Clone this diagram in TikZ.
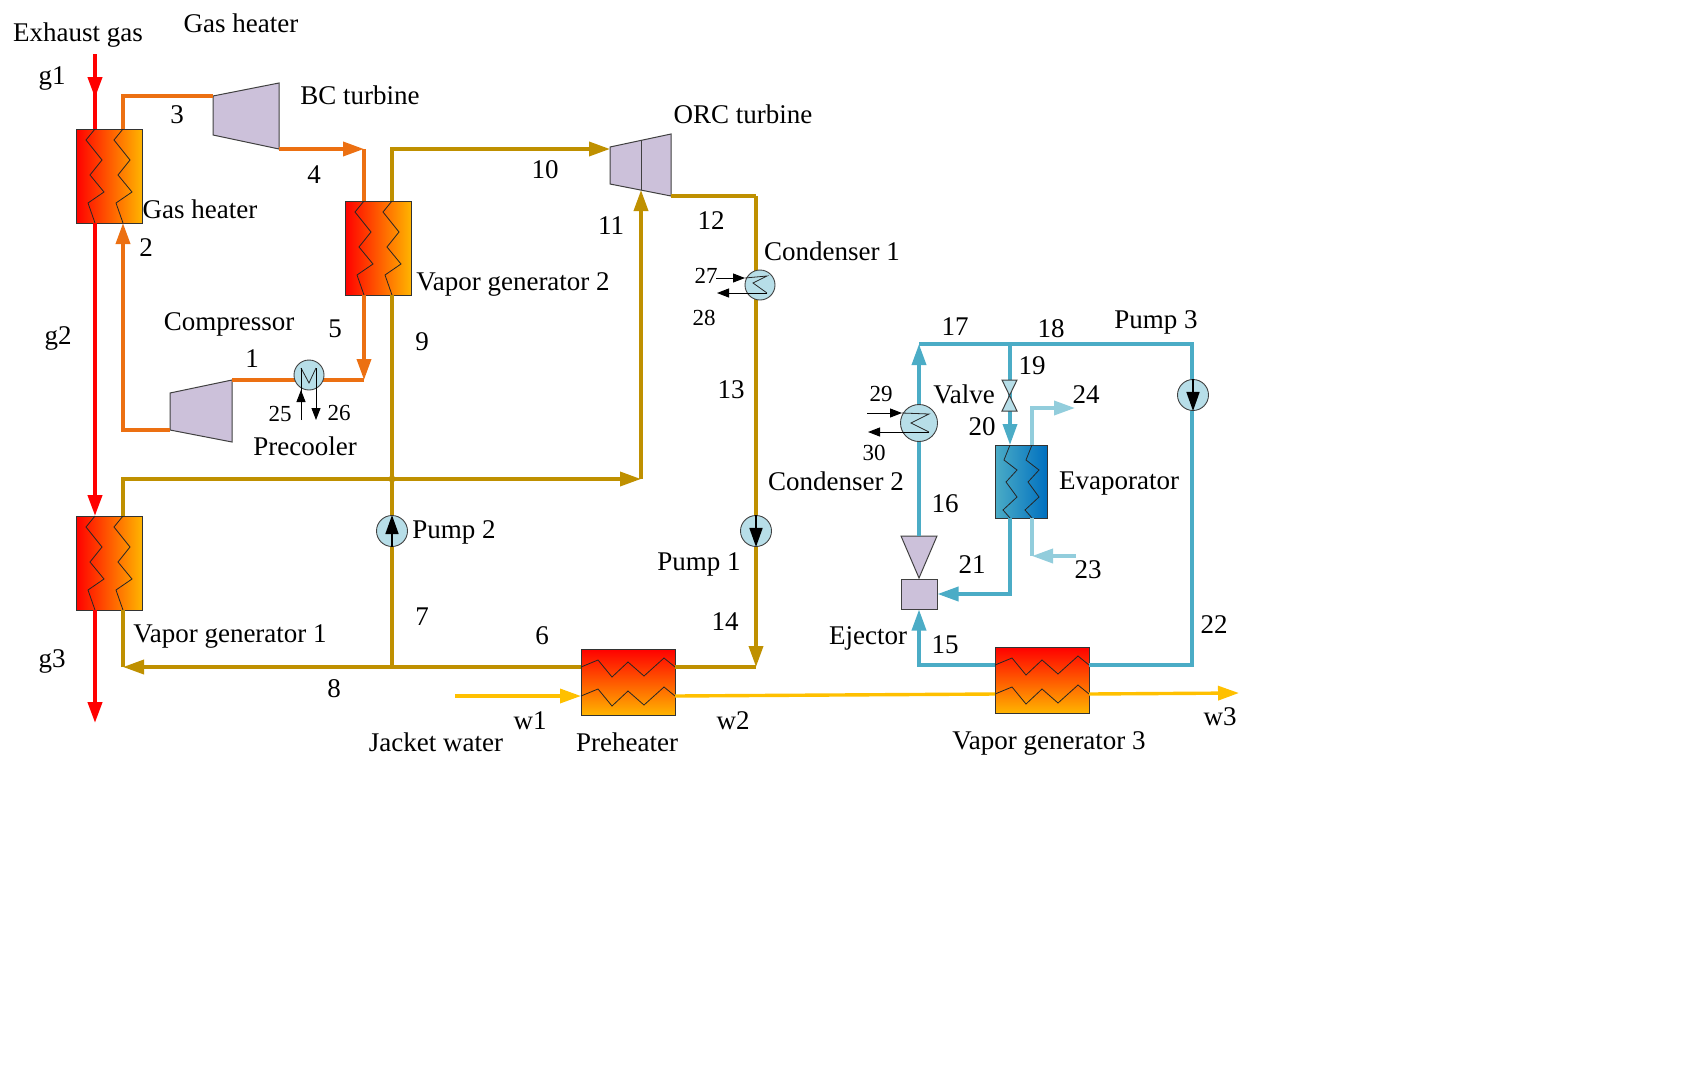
\documentclass[tikz,border=0pt]{standalone}
\usepackage{fontspec}
\setmainfont{Liberation Serif}
\usetikzlibrary{arrows.meta,calc}
\definecolor{airorange}{HTML}{EC7012}
\definecolor{orcgold}{HTML}{BF9000}
\definecolor{wateramber}{HTML}{FFC000}
\definecolor{ejblue}{HTML}{4BACC6}
\definecolor{chillblue}{HTML}{92CDDC}
\definecolor{machinelilac}{HTML}{CCC1DA}
\definecolor{coilblue}{HTML}{B7DEE8}
\definecolor{hotend}{HTML}{FFB400}
\definecolor{coldend}{HTML}{0070C0}
\tikzset{
  hxbox/.style={draw=black!80,line width=0.9pt,inner sep=0pt,outer sep=0pt},
  hxv/.style={hxbox,minimum width=66pt,minimum height=94pt,left color=red,right color=hotend},
  hxh/.style={hxbox,minimum width=94pt,minimum height=66pt,top color=red,bottom color=hotend},
  hxe/.style={hxbox,minimum width=52pt,minimum height=73pt,left color=ejblue,right color=coldend},
  zig/.style={draw=black!85,line width=0.8pt,line join=miter},
  machine/.style={fill=machinelilac,draw=black!75,line width=1pt},
  coil/.style={circle,draw=black!75,fill=coilblue,line width=0.9pt,minimum size=#1,inner sep=0pt},
  gas/.style={red,line width=4pt},
  air/.style={airorange,line width=3.6pt},
  orc/.style={orcgold,line width=3.6pt},
  water/.style={wateramber,line width=3.4pt},
  ej/.style={ejblue,line width=3.6pt},
  chill/.style={chillblue,line width=3.6pt},
  tip/.style={-{Triangle[length=21pt,width=14pt]}},
  minitip/.style={black,line width=1pt,-{Triangle[length=12pt,width=9pt]}},
  lbl/.style={font=\fontsize{27}{31}\selectfont,inner sep=0pt},
  sml/.style={font=\fontsize{23}{27}\selectfont,inner sep=0pt}
}
% vertical and horizontal exchanger: box, two coils, four ports
\newcommand{\hexv}[3]{%
  \node[hxv,anchor=north west] (#1) at (#2,#3) {};
  \coordinate (#1-at) at ([shift={(19,0)}]#1.north west);
  \coordinate (#1-bt) at ([shift={(47,0)}]#1.north west);
  \coordinate (#1-ab) at ([shift={(19,94)}]#1.north west);
  \coordinate (#1-bb) at ([shift={(47,94)}]#1.north west);
  \draw[zig] (#1-at) -- ++(-9,11) -- ++(16,20) -- ++(-12,15) -- ++(14,17) -- ++(-16,11) -- (#1-ab);
  \draw[zig] (#1-bt) -- ++(-9,11) -- ++(16,20) -- ++(-12,15) -- ++(14,17) -- ++(-16,11) -- (#1-bb);
}
\newcommand{\hexh}[3]{%
  \node[hxh,anchor=north west] (#1) at (#2,#3) {};
  \coordinate (#1-al) at ([shift={(0,18)}]#1.north west);
  \coordinate (#1-ar) at ([shift={(94,18)}]#1.north west);
  \coordinate (#1-bl) at ([shift={(0,47)}]#1.north west);
  \coordinate (#1-br) at ([shift={(94,47)}]#1.north west);
  \draw[zig] (#1-al) -- ++(17,-7) -- ++(14,17) -- ++(16,-15) -- ++(16,14) -- ++(20,-18) -- (#1-ar);
  \draw[zig] (#1-bl) -- ++(17,-7) -- ++(14,17) -- ++(16,-15) -- ++(16,14) -- ++(20,-18) -- (#1-br);
}
\begin{document}
\begin{tikzpicture}[x=1pt,y=-1pt]
  \useasboundingbox (0,0) rectangle (1696,1074);

  % junctions and bends
  \coordinate (g1in) at (95,54);
  \coordinate (g1mid) at (95,98);
  \coordinate (g3out) at (95,723);
  \coordinate (b3) at (123,96);
  \coordinate (b4) at (364,149);
  \coordinate (b5) at (364,380);
  \coordinate (b2) at (123,430);
  \coordinate (b10) at (392,149);
  \coordinate (orcport) at (610,149);
  \coordinate (b12) at (756,196);
  \coordinate (b14) at (756,667);
  \coordinate (jc9) at (392,479);
  \coordinate (jc7) at (392,667);
  \coordinate (b7) at (123,479);
  \coordinate (b11) at (641,479);
  \coordinate (b8) at (123,667);
  \coordinate (w1in) at (455,696);
  \coordinate (w3out) at (1239,693);
  \coordinate (b15) at (919,665);
  \coordinate (b22) at (1192,665);
  \coordinate (b18) at (1192,344);
  \coordinate (b17) at (919,344);
  \coordinate (j19) at (1010,344);
  \coordinate (b21) at (1010,594);
  \coordinate (b23) at (1032,556);
  \coordinate (e23) at (1076,556);
  \coordinate (b24) at (1032,408);
  \coordinate (e24) at (1075,408);

  % machines
  \filldraw[machine] (213,96) coordinate (bcin) -- (279,83) -- (279,149) coordinate (bcout) -- (213,135) -- cycle;
  \filldraw[machine] (170,393) -- (232,380) coordinate (cpout) -- (232,442) -- (170,430) coordinate (cpin) -- cycle;
  \filldraw[machine] (610,147) -- (671,134) -- (671,196) coordinate (orcout) -- (610,184) -- cycle;
  \draw[machine] (641,141) -- (641,190) coordinate (orcmid);
  \filldraw[machine] (901,536) -- (937,536) -- (919,578) -- cycle;
  \node[draw=black!75,fill=machinelilac,line width=1pt,minimum width=36pt,minimum height=30pt,inner sep=0pt] (ejector) at (919,594) {};
  \coordinate (ejtop) at (919,536);

  % exchangers
  \hexv{gh}{76}{129}
  \hexv{vgb}{345}{201}
  \hexv{vga}{76}{516}
  \hexh{pre}{581}{649}
  \hexh{vgc}{995}{647}
  \node[hxe,anchor=north west] (evap) at (995,445) {};
  \coordinate (ev-at) at (1010,445);
  \coordinate (ev-bt) at (1032,445);
  \coordinate (ev-ab) at (1010,518);
  \coordinate (ev-bb) at (1032,518);
  \draw[zig] (ev-at) -- ++(-6,15) -- ++(13,10) -- ++(-11,12) -- ++(11,15) -- ++(-14,13) -- (ev-ab);
  \draw[zig] (ev-bt) -- ++(-6,15) -- ++(13,10) -- ++(-11,12) -- ++(11,15) -- ++(-14,13) -- (ev-bb);

  % gas side
  \draw[gas] (g1in) -- (gh-at);
  \draw[gas,tip] (g1in) -- (g1mid);
  \draw[gas,tip] (gh-ab) -- (vga-at);
  \draw[gas,tip] (vga-ab) -- (g3out);

  % air loop
  \draw[air] (gh-bt) -- (b3) -- (bcin);
  \draw[air,tip] (bcout) -- (b4);
  \draw[air] (b4) -- (vgb-at);
  \draw[air,tip] (vgb-ab) -- (b5);
  \draw[air] (b5) -- (cpout);
  \draw[air,tip] (cpin) -- (b2) -- (gh-bb);

  % organic loop
  \draw[orc,tip] (vgb-bt) -- (b10) -- (orcport);
  \draw[orc] (orcout) -- (b12);
  \draw[orc,tip] (b12) -- (b14);
  \draw[orc] (pre-ar) -- (b14);
  \draw[orc] (pre-al) -- (jc7);
  \draw[orc,tip] (jc7) -- (b8);
  \draw[orc] (b8) -- (vga-bb);
  \draw[orc] (jc7) -- (vgb-bb);
  \draw[orc,tip] (vga-bt) -- (b7) -- (b11);
  \draw[orc,tip] (b11) -- (orcmid);
  \node[circle,fill=orcgold,minimum size=7pt,inner sep=0pt] (jcdot) at (jc9) {};

  % water
  \draw[water,tip] (w1in) -- (pre-bl);
  \draw[water] (pre-br) -- (vgc-bl);
  \draw[water,tip] (vgc-br) -- (w3out);

  % ejector loop
  \draw[ej,tip] (vgc-al) -- (b15) -- (ejector.south);
  \draw[ej] (vgc-ar) -- (b22) -- (b18) -- (b17);
  \draw[ej,tip] (ejtop) -- (b17);
  \draw[ej,tip] (j19) -- (ev-at);
  \draw[ej,tip] (ev-ab) -- (b21) -- (ejector.east);
  \draw[chill,tip] (e23) -- (b23);
  \draw[chill] (b23) -- (ev-bb);
  \draw[chill,tip] (ev-bt) -- (b24) -- (e24);

  % coolers and pumps
  \node[coil=30pt] (precool) at (309,375) {};
  \draw[zig] (301,368) -- (309,383) -- (316,368);
  \coordinate (pc25) at (301,420);
  \coordinate (pc26) at (316,420);
  \draw[minitip] (pc25) -- (301,390);
  \draw[black,line width=0.9pt] (301,392) -- (301,368);
  \draw[minitip] (316,368) -- (pc26);

  \node[coil=30pt] (condA) at (760,285) {};
  \coordinate (c27) at (716,278);
  \coordinate (c28) at (717,293);
  \draw[minitip] (c27) -- (745,278);
  \draw[zig] (745,278) -- (767,276) -- (753,283) -- (767,293);
  \draw[minitip] (767,293) -- (c28);

  \node[coil=37pt] (condB) at (919,423) {};
  \coordinate (c29) at (867,413);
  \coordinate (c30) at (868,432);
  \draw[minitip] (c29) -- (902,413);
  \draw[zig] (902,413) -- (929,414) -- (911,423) -- (929,432);
  \draw[minitip] (929,432) -- (c30);

  \node[coil=31pt] (pumpA) at (756,531) {};
  \draw[black,line width=1.6pt,-{Triangle[length=19pt,width=13pt]}] (pumpA.north) -- (pumpA.south);
  \node[coil=31pt] (pumpB) at (392,531) {};
  \draw[black,line width=1.6pt,-{Triangle[length=19pt,width=13pt]}] (pumpB.south) -- (pumpB.north);
  \node[coil=31pt] (pumpC) at (1193,395) {};
  \draw[black,line width=1.6pt,-{Triangle[length=19pt,width=13pt]}] (pumpC.north) -- (pumpC.south);

  % valve
  \filldraw[machine,fill=coilblue] (1002,380) -- (1017,380) -- (1002,411) -- (1017,411) -- cycle;

  % labels
  \node[lbl] (tExhaust) at (78,35) {Exhaust gas};
  \node[lbl] (tGasTop) at (241,23) {Gas heater};
  \node[lbl] (tGh) at (200,209) {Gas heater};
  \node[lbl] (tBc) at (360,95) {BC turbine};
  \node[lbl] (tOrc) at (743,114) {ORC turbine};
  \node[lbl] (tVgb) at (513,284) {Vapor generator 2};
  \node[lbl] (tVga) at (230,636) {Vapor generator 1};
  \node[lbl] (tVgc) at (1049,743) {Vapor generator 3};
  \node[lbl] (tCond1) at (832,251) {Condenser 1};
  \node[lbl] (tCond2) at (836,481) {Condenser 2};
  \node[lbl] (tComp) at (229,324) {Compressor};
  \node[lbl] (tPrecool) at (305,446) {Precooler};
  \node[lbl] (tPump2) at (454,532) {Pump 2};
  \node[lbl] (tPump1) at (699,564) {Pump 1};
  \node[lbl] (tPump3) at (1156,322) {Pump 3};
  \node[lbl] (tValve) at (964,394) {Valve};
  \node[lbl] (tEvap) at (1119,484) {Evaporator};
  \node[lbl] (tEject) at (868,638) {Ejector};
  \node[lbl] (tJacket) at (436,742) {Jacket water};
  \node[lbl] (tPre) at (627,742) {Preheater};
  \node[lbl] (tg1) at (52,78) {g1};
  \node[lbl] (tg2) at (58,338) {g2};
  \node[lbl] (tg3) at (52,661) {g3};
  \node[lbl] (tw1) at (530,721) {w1};
  \node[lbl] (tw2) at (733,721) {w2};
  \node[lbl] (tw3) at (1220,717) {w3};
  \node[lbl] (t1) at (252,359) {1};
  \node[lbl] (t2) at (146,248) {2};
  \node[lbl] (t3) at (177,115) {3};
  \node[lbl] (t4) at (314,175) {4};
  \node[lbl] (t5) at (335,329) {5};
  \node[lbl] (t6) at (542,636) {6};
  \node[lbl] (t7) at (422,617) {7};
  \node[lbl] (t8) at (334,689) {8};
  \node[lbl] (t9) at (422,342) {9};
  \node[lbl] (t10) at (545,170) {10};
  \node[lbl] (t11) at (611,226) {11};
  \node[lbl] (t12) at (711,221) {12};
  \node[lbl] (t13) at (731,390) {13};
  \node[lbl] (t14) at (725,622) {14};
  \node[lbl] (t15) at (945,645) {15};
  \node[lbl] (t16) at (945,504) {16};
  \node[lbl] (t17) at (955,327) {17};
  \node[lbl] (t18) at (1051,329) {18};
  \node[lbl] (t19) at (1032,366) {19};
  \node[lbl] (t20) at (982,427) {20};
  \node[lbl] (t21) at (972,565) {21};
  \node[lbl] (t22) at (1214,625) {22};
  \node[lbl] (t23) at (1088,570) {23};
  \node[lbl] (t24) at (1086,395) {24};
  \node[sml] (t25) at (280,414) {25};
  \node[sml] (t26) at (339,413) {26};
  \node[sml] (t27) at (706,276) {27};
  \node[sml] (t28) at (704,318) {28};
  \node[sml] (t29) at (881,394) {29};
  \node[sml] (t30) at (874,453) {30};
\end{tikzpicture}
\end{document}
